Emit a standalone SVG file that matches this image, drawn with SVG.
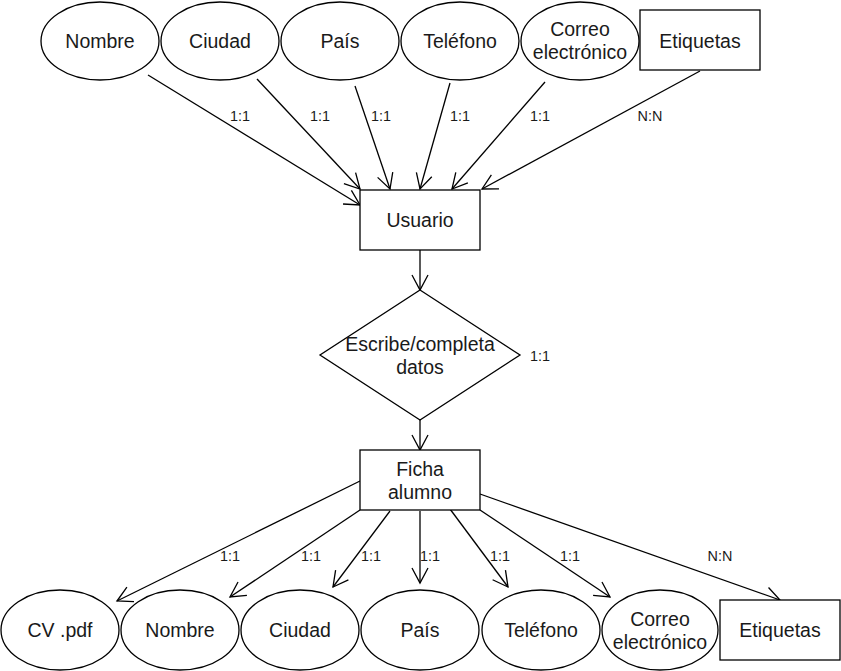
<svg xmlns="http://www.w3.org/2000/svg" width="841" height="671" viewBox="0 0 841 671">
<style>
.sh{fill:#ffffff;stroke:#000;stroke-width:1.3}
.t{font-family:"Liberation Sans",Arial,sans-serif;font-size:19.5px;fill:#1a1a1a;text-anchor:middle}
.l{font-family:"Liberation Sans",Arial,sans-serif;font-size:14.4px;fill:#1a1a1a;text-anchor:middle}
.c{fill:none;stroke:#000;stroke-width:1.3}
</style>
<defs>
<marker id="a" markerUnits="userSpaceOnUse" viewBox="-17 -10 19 20" refX="0" refY="0" markerWidth="19" markerHeight="20" orient="auto">
<path d="M-15,-8 L0,0 L-15,8" fill="none" stroke="#000" stroke-width="1.3"/>
</marker>
</defs>
<rect width="841" height="671" fill="#fff"/>
<g id="connectors">
<line class="c" x1="148" y1="75" x2="360" y2="205" marker-end="url(#a)"/>
<line class="c" x1="257" y1="79" x2="360" y2="189" marker-end="url(#a)"/>
<line class="c" x1="355" y1="86" x2="390" y2="189" marker-end="url(#a)"/>
<line class="c" x1="450" y1="83" x2="420" y2="189" marker-end="url(#a)"/>
<line class="c" x1="545" y1="82" x2="452" y2="189" marker-end="url(#a)"/>
<line class="c" x1="700" y1="71" x2="482" y2="189" marker-end="url(#a)"/>
<line class="c" x1="420" y1="250" x2="420" y2="290" marker-end="url(#a)"/>
<line class="c" x1="420" y1="420" x2="420" y2="450" marker-end="url(#a)"/>
<line class="c" x1="360" y1="481" x2="117" y2="601" marker-end="url(#a)"/>
<line class="c" x1="360" y1="510" x2="230" y2="597" marker-end="url(#a)"/>
<line class="c" x1="390" y1="511" x2="333" y2="587" marker-end="url(#a)"/>
<line class="c" x1="420" y1="511" x2="420" y2="583" marker-end="url(#a)"/>
<line class="c" x1="450" y1="509" x2="508" y2="587" marker-end="url(#a)"/>
<line class="c" x1="480" y1="510" x2="610" y2="597" marker-end="url(#a)"/>
<line class="c" x1="480" y1="494" x2="780" y2="600" marker-end="url(#a)"/>
<text class="l" x="240" y="121">1:1</text>
<text class="l" x="320" y="121">1:1</text>
<text class="l" x="381" y="121">1:1</text>
<text class="l" x="460" y="121">1:1</text>
<text class="l" x="540" y="121">1:1</text>
<text class="l" x="650" y="121">N:N</text>
<text class="l" x="540" y="361">1:1</text>
<text class="l" x="230" y="561">1:1</text>
<text class="l" x="311" y="561">1:1</text>
<text class="l" x="371" y="561">1:1</text>
<text class="l" x="430" y="561">1:1</text>
<text class="l" x="500" y="561">1:1</text>
<text class="l" x="570" y="561">1:1</text>
<text class="l" x="720" y="561">N:N</text>
</g>
<g id="top-nombre"><ellipse class="sh" cx="100" cy="41" rx="59" ry="39"/><text class="t" x="100" y="48">Nombre</text></g>
<g id="top-ciudad"><ellipse class="sh" cx="220" cy="41" rx="59" ry="39"/><text class="t" x="220" y="48">Ciudad</text></g>
<g id="top-pais"><ellipse class="sh" cx="340" cy="41" rx="59" ry="39"/><text class="t" x="340" y="48">País</text></g>
<g id="top-telefono"><ellipse class="sh" cx="460" cy="41" rx="59" ry="39"/><text class="t" x="460" y="48">Teléfono</text></g>
<g id="top-correo"><ellipse class="sh" cx="580" cy="41" rx="59" ry="39"/><text class="t" x="580" y="36">Correo</text><text class="t" x="580" y="59">electrónico</text></g>
<g id="top-etiquetas"><rect class="sh" x="640" y="10" width="120" height="60"/><text class="t" x="700" y="48">Etiquetas</text></g>
<g id="usuario"><rect class="sh" x="360" y="190" width="120" height="60"/><text class="t" x="420" y="227">Usuario</text></g>
<g id="escribe"><polygon class="sh" points="420,290 520,355 420,420 320,355"/><text class="t" x="420" y="351">Escribe/completa</text><text class="t" x="420" y="374">datos</text></g>
<g id="ficha"><rect class="sh" x="360" y="450" width="120" height="60"/><text class="t" x="420" y="476">Ficha</text><text class="t" x="420" y="499">alumno</text></g>
<g id="bot-cv"><ellipse class="sh" cx="60" cy="630" rx="59" ry="40"/><text class="t" x="60" y="637">CV .pdf</text></g>
<g id="bot-nombre"><ellipse class="sh" cx="180" cy="630" rx="59" ry="40"/><text class="t" x="180" y="637">Nombre</text></g>
<g id="bot-ciudad"><ellipse class="sh" cx="300" cy="630" rx="59" ry="40"/><text class="t" x="300" y="637">Ciudad</text></g>
<g id="bot-pais"><ellipse class="sh" cx="420" cy="630" rx="59" ry="40"/><text class="t" x="420" y="637">País</text></g>
<g id="bot-telefono"><ellipse class="sh" cx="541" cy="630" rx="59" ry="40"/><text class="t" x="541" y="637">Teléfono</text></g>
<g id="bot-correo"><ellipse class="sh" cx="660" cy="630" rx="58" ry="40"/><text class="t" x="660" y="626">Correo</text><text class="t" x="660" y="649">electrónico</text></g>
<g id="bot-etiquetas"><rect class="sh" x="720" y="600" width="120" height="60"/><text class="t" x="780" y="637">Etiquetas</text></g>
</svg>
